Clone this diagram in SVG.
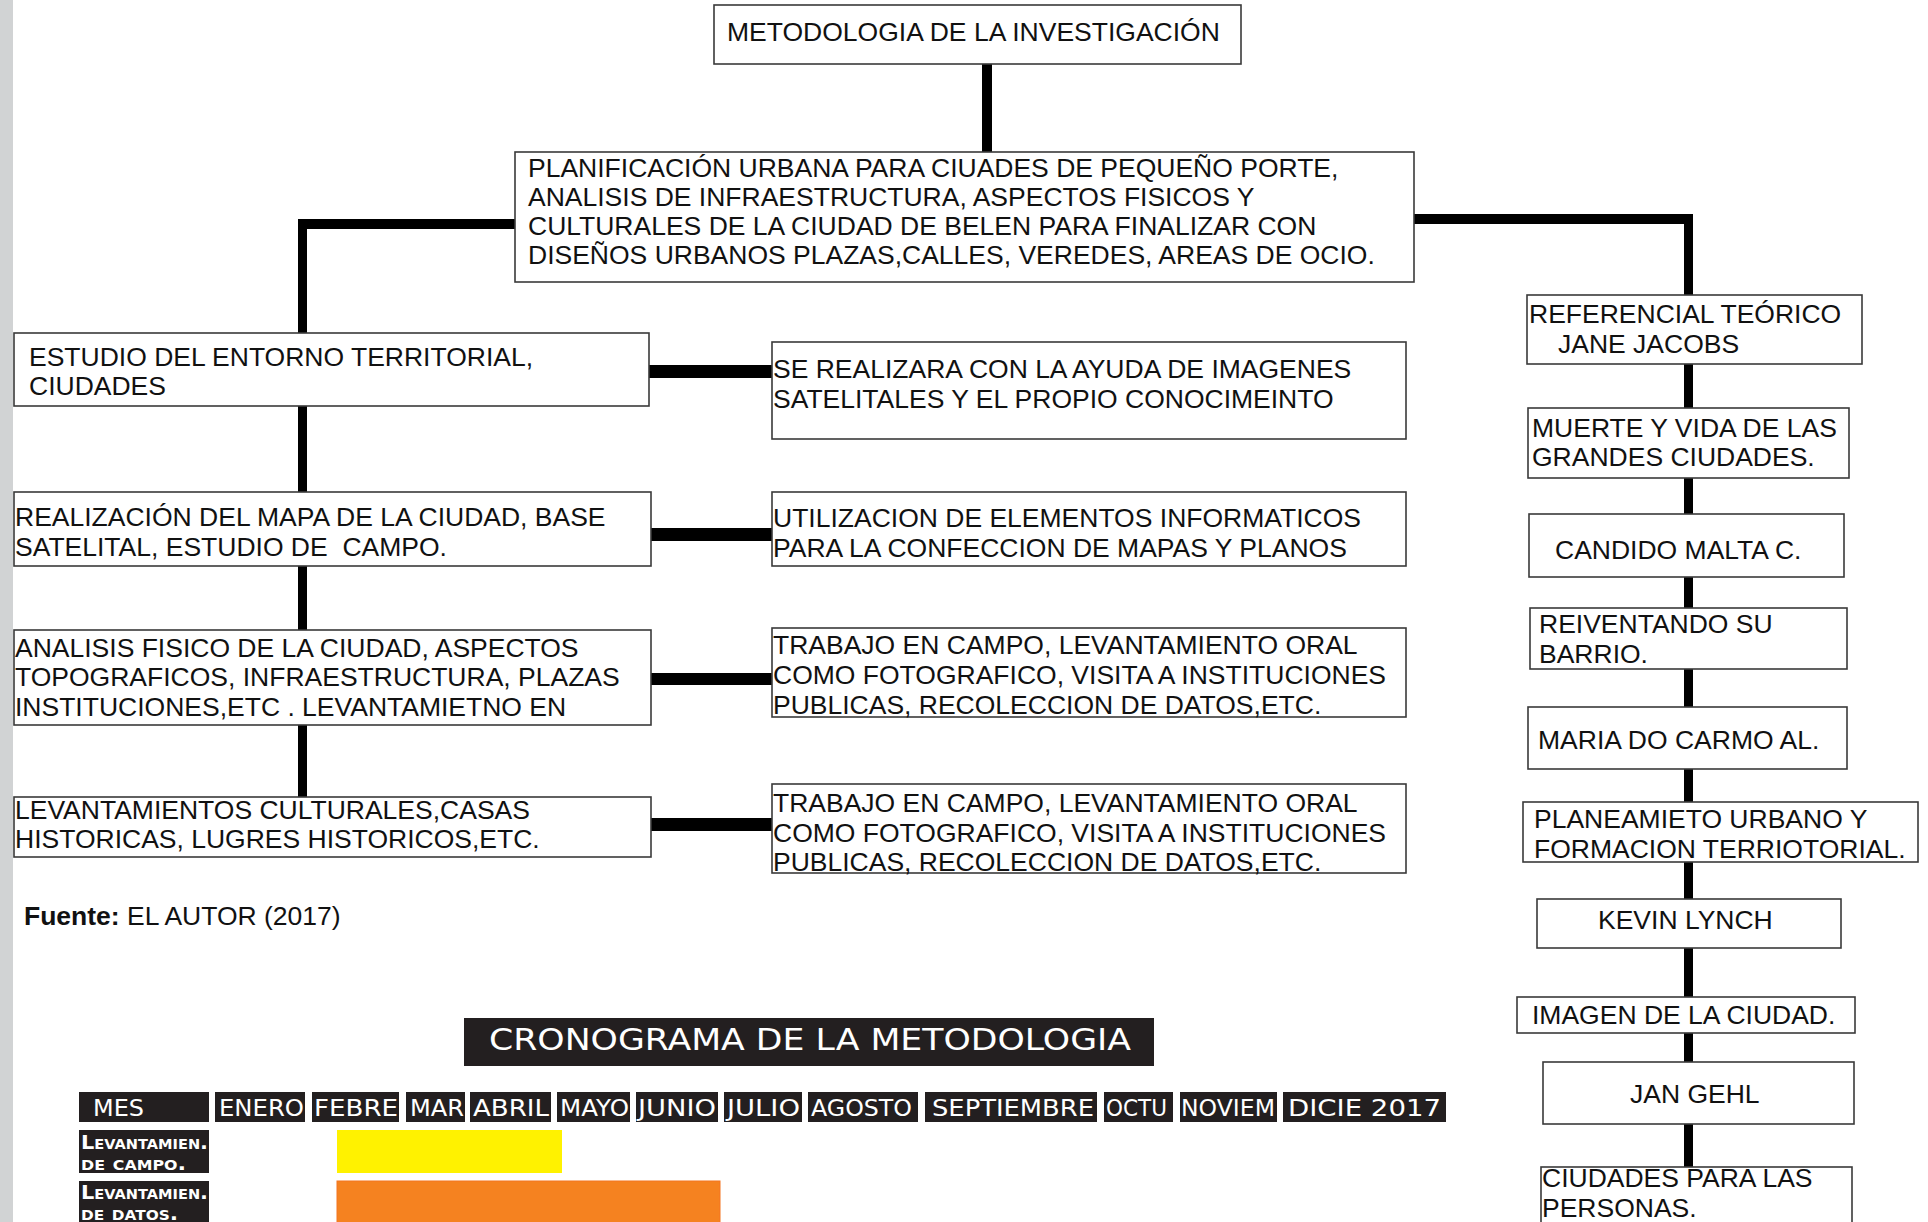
<svg xmlns="http://www.w3.org/2000/svg" width="1928" height="1222" viewBox="0 0 1928 1222">
<style>
.box{fill:#fff;stroke:#3a3a3a;stroke-width:1.6}
.t{font-family:"Liberation Sans",Arial,sans-serif;font-size:26.5px;fill:#111}
.c{fill:#000}
.dk{fill:#231f20}
.ct{font-family:"DejaVu Sans",sans-serif;fill:#fff}
.h{font-size:23px}
.sc{font-size:20px;font-variant:small-caps;font-weight:bold}
</style>
<rect x="0" y="0" width="1928" height="1222" fill="#fff"/>
<rect x="0" y="0" width="13" height="1222" fill="#d1d3d4"/>
<g id="connectors">
<rect class="c" x="982" y="63" width="10" height="90"/>
<rect class="c" x="298" y="219" width="218" height="10"/>
<rect class="c" x="298" y="219" width="9" height="578"/>
<rect class="c" x="1414" y="214" width="279" height="10"/>
<rect class="c" x="1684" y="214" width="9" height="953"/>
<rect class="c" x="649" y="365" width="123" height="13"/>
<rect class="c" x="651" y="528" width="121" height="13"/>
<rect class="c" x="651" y="673" width="121" height="12"/>
<rect class="c" x="651" y="818" width="121" height="13"/>
</g>
<g id="n-top"><rect class="box" x="714" y="5" width="527" height="59"/><text class="t" x="727" y="41">METODOLOGIA DE LA INVESTIGACIÓN</text></g>
<g id="n-main"><rect class="box" x="515" y="152" width="899" height="130"/>
<text class="t" x="528" y="177">PLANIFICACIÓN URBANA PARA CIUADES DE PEQUEÑO PORTE,</text>
<text class="t" x="528" y="206">ANALISIS DE INFRAESTRUCTURA, ASPECTOS FISICOS Y</text>
<text class="t" x="528" y="235">CULTURALES DE LA CIUDAD DE BELEN PARA FINALIZAR CON</text>
<text class="t" x="528" y="264">DISEÑOS URBANOS PLAZAS,CALLES, VEREDES, AREAS DE OCIO.</text></g>
<g id="n-l1"><rect class="box" x="14" y="333" width="635" height="73"/>
<text class="t" x="29" y="366">ESTUDIO DEL ENTORNO TERRITORIAL,</text>
<text class="t" x="29" y="395">CIUDADES</text></g>
<g id="n-l2"><rect class="box" x="14" y="492" width="637" height="74"/>
<text class="t" x="15" y="526">REALIZACIÓN DEL MAPA DE LA CIUDAD, BASE</text>
<text class="t" x="15" y="556" style="white-space:pre">SATELITAL, ESTUDIO DE  CAMPO.</text></g>
<g id="n-l3"><rect class="box" x="14" y="630" width="637" height="95"/>
<text class="t" x="15" y="657">ANALISIS FISICO DE LA CIUDAD, ASPECTOS</text>
<text class="t" x="15" y="686">TOPOGRAFICOS, INFRAESTRUCTURA, PLAZAS</text>
<text class="t" x="15" y="716">INSTITUCIONES,ETC . LEVANTAMIETNO EN</text></g>
<g id="n-l4"><rect class="box" x="14" y="797" width="637" height="60"/>
<text class="t" x="15" y="819">LEVANTAMIENTOS CULTURALES,CASAS</text>
<text class="t" x="15" y="848">HISTORICAS, LUGRES HISTORICOS,ETC.</text></g>
<g id="n-m1"><rect class="box" x="772" y="342" width="634" height="97"/>
<text class="t" x="773" y="378">SE REALIZARA CON LA AYUDA DE IMAGENES</text>
<text class="t" x="773" y="408">SATELITALES Y EL PROPIO CONOCIMEINTO</text></g>
<g id="n-m2"><rect class="box" x="772" y="492" width="634" height="74"/>
<text class="t" x="773" y="527">UTILIZACION DE ELEMENTOS INFORMATICOS</text>
<text class="t" x="773" y="557">PARA LA CONFECCION DE MAPAS Y PLANOS</text></g>
<g id="n-m3"><rect class="box" x="772" y="628" width="634" height="89"/>
<text class="t" x="773" y="654">TRABAJO EN CAMPO, LEVANTAMIENTO ORAL</text>
<text class="t" x="773" y="684">COMO FOTOGRAFICO, VISITA A INSTITUCIONES</text>
<text class="t" x="773" y="714">PUBLICAS, RECOLECCION DE DATOS,ETC.</text></g>
<g id="n-m4"><rect class="box" x="772" y="784" width="634" height="89"/>
<text class="t" x="773" y="812">TRABAJO EN CAMPO, LEVANTAMIENTO ORAL</text>
<text class="t" x="773" y="842">COMO FOTOGRAFICO, VISITA A INSTITUCIONES</text>
<text class="t" x="773" y="871">PUBLICAS, RECOLECCION DE DATOS,ETC.</text></g>
<g id="n-r1"><rect class="box" x="1527" y="295" width="335" height="69"/>
<text class="t" x="1529" y="323">REFERENCIAL TEÓRICO</text>
<text class="t" x="1558" y="353">JANE JACOBS</text></g>
<g id="n-r2"><rect class="box" x="1528" y="408" width="321" height="70"/>
<text class="t" x="1532" y="437">MUERTE Y VIDA DE LAS</text>
<text class="t" x="1532" y="466">GRANDES CIUDADES.</text></g>
<g id="n-r3"><rect class="box" x="1529" y="514" width="315" height="63"/>
<text class="t" x="1555" y="559">CANDIDO MALTA C.</text></g>
<g id="n-r4"><rect class="box" x="1530" y="608" width="317" height="61"/>
<text class="t" x="1539" y="633">REIVENTANDO SU</text>
<text class="t" x="1539" y="663">BARRIO.</text></g>
<g id="n-r5"><rect class="box" x="1528" y="707" width="319" height="62"/>
<text class="t" x="1538" y="749">MARIA DO CARMO AL.</text></g>
<g id="n-r6"><rect class="box" x="1523" y="802" width="395" height="60"/>
<text class="t" x="1534" y="828">PLANEAMIETO URBANO Y</text>
<text class="t" x="1534" y="858">FORMACION TERRIOTORIAL.</text></g>
<g id="n-r7"><rect class="box" x="1537" y="899" width="304" height="49"/>
<text class="t" x="1598" y="929">KEVIN LYNCH</text></g>
<g id="n-r8"><rect class="box" x="1517" y="997" width="338" height="36"/>
<text class="t" x="1532" y="1024">IMAGEN DE LA CIUDAD.</text></g>
<g id="n-r9"><rect class="box" x="1543" y="1062" width="311" height="62"/>
<text class="t" x="1630" y="1103">JAN GEHL</text></g>
<g id="n-r10"><rect class="box" x="1541" y="1167" width="311" height="70"/>
<text class="t" x="1542" y="1187">CIUDADES PARA LAS</text>
<text class="t" x="1542" y="1217">PERSONAS.</text></g>
<text class="t" x="24" y="925"><tspan font-weight="bold">Fuente:</tspan> EL AUTOR (2017)</text>
<g id="chart">
<rect class="dk" x="464" y="1018" width="690" height="48"/>
<text class="ct" x="489" y="1050" font-size="31" textLength="642" lengthAdjust="spacingAndGlyphs">CRONOGRAMA DE LA METODOLOGIA</text>
<rect class="dk" x="79" y="1092" width="130" height="30"/><text class="ct h" x="93" y="1116" textLength="51" lengthAdjust="spacingAndGlyphs">MES</text>
<rect class="dk" x="215" y="1092" width="90" height="30"/><text class="ct h" x="219" y="1116" textLength="85" lengthAdjust="spacingAndGlyphs">ENERO</text>
<rect class="dk" x="312" y="1092" width="87" height="30"/><text class="ct h" x="314" y="1116" textLength="84" lengthAdjust="spacingAndGlyphs">FEBRE</text>
<rect class="dk" x="406" y="1092" width="59" height="30"/><text class="ct h" x="410" y="1116" textLength="54" lengthAdjust="spacingAndGlyphs">MAR</text>
<rect class="dk" x="470" y="1092" width="81" height="30"/><text class="ct h" x="473" y="1116" textLength="76" lengthAdjust="spacingAndGlyphs">ABRIL</text>
<rect class="dk" x="557" y="1092" width="73" height="30"/><text class="ct h" x="560" y="1116" textLength="69" lengthAdjust="spacingAndGlyphs">MAYO</text>
<rect class="dk" x="636" y="1092" width="82" height="30"/><text class="ct h" x="638" y="1116" textLength="78" lengthAdjust="spacingAndGlyphs">JUNIO</text>
<rect class="dk" x="724" y="1092" width="78" height="30"/><text class="ct h" x="727" y="1116" textLength="73" lengthAdjust="spacingAndGlyphs">JULIO</text>
<rect class="dk" x="808" y="1092" width="110" height="30"/><text class="ct h" x="811" y="1116" textLength="101" lengthAdjust="spacingAndGlyphs">AGOSTO</text>
<rect class="dk" x="925" y="1092" width="172" height="30"/><text class="ct h" x="932" y="1116" textLength="162" lengthAdjust="spacingAndGlyphs">SEPTIEMBRE</text>
<rect class="dk" x="1104" y="1092" width="69" height="30"/><text class="ct h" x="1106" y="1116" textLength="61" lengthAdjust="spacingAndGlyphs">OCTU</text>
<rect class="dk" x="1180" y="1092" width="97" height="30"/><text class="ct h" x="1181" y="1116" textLength="94" lengthAdjust="spacingAndGlyphs">NOVIEM</text>
<rect class="dk" x="1283" y="1092" width="163" height="30"/><text class="ct h" x="1288" y="1116" textLength="153" lengthAdjust="spacingAndGlyphs">DICIE 2017</text>
<rect class="dk" x="79" y="1130" width="130" height="43"/>
<text class="ct sc" x="81" y="1149" textLength="127" lengthAdjust="spacingAndGlyphs">Levantamien.</text>
<text class="ct sc" x="81" y="1170" textLength="105" lengthAdjust="spacingAndGlyphs">de campo.</text>
<rect class="dk" x="79" y="1181" width="130" height="50"/>
<text class="ct sc" x="81" y="1199" textLength="127" lengthAdjust="spacingAndGlyphs">Levantamien.</text>
<text class="ct sc" x="81" y="1220" textLength="97" lengthAdjust="spacingAndGlyphs">de datos.</text>
<rect x="337" y="1130" width="225" height="43" fill="#fff200"/>
<rect x="337" y="1181" width="383" height="50" fill="#f58220" stroke="#f47521" stroke-width="1"/>
</g>
</svg>
